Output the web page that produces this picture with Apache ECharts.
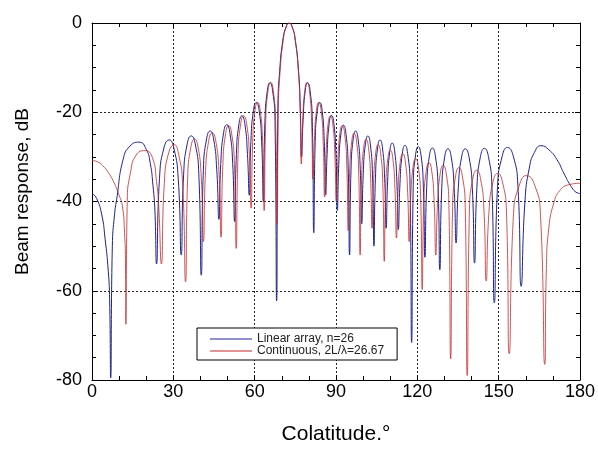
<!DOCTYPE html>
<html><head><meta charset="utf-8">
<script src="https://cdn.jsdelivr.net/npm/echarts@6/dist/echarts.min.js"></script>
<style>html,body{margin:0;padding:0;background:#fff}#c{width:598px;height:450px}</style>
</head><body><div id="c"></div>
<script>
const seriesNames = ['Linear array, n=26', 'Continuous, 2L/λ=26.67'];
const xTickLabels = [0, 30, 60, 90, 120, 150, 180];
const yTickLabels = [-80, -60, -40, -20, 0];

// Linear array (blue): colatitude (deg) and response (dB)
const arrDeg = [
0,1.7,3.6,4.8,6.0,6.5,6.9,
7.5,8.3,9.1,11.5,14,17.4,20,21.5,22.5,23.2,23.8,
24.89,26.53,28.5,30.17,31.81,32.9,
33.79,35.12,36.6,38.08,39.41,40.3,
41.08,42.25,43.55,44.85,46.02,46.8,
47.5,48.54,49.7,50.86,51.9,52.6,
53.25,54.22,55.3,56.38,57.35,58,
58.62,59.56,60.6,61.64,62.58,63.2,
63.79,64.67,65.65,66.63,67.51,68.1,
68.56,69.2,70.4,71.55,72.7,73.85,75,76.2,76.84,77.3,
77.84,78.65,79.55,80.45,81.26,81.8,
82.33,83.12,84,84.88,85.67,86.2,
86.72,87.49,88.35,89.21,89.98,90.5,
91.04,91.85,92.75,93.65,94.46,95,
95.54,96.35,97.25,98.15,98.96,99.5,
100.04,100.85,101.75,102.65,103.46,104,
104.54,105.35,106.25,107.15,107.96,108.5,
109.04,109.85,110.75,111.65,112.46,113,
113.59,114.47,115.45,116.43,117.31,117.9,
118.49,119.37,120.35,121.33,122.21,122.8,
123.46,124.45,125.55,126.65,127.64,128.3,
129.02,130.1,131.3,132.5,133.58,134.3,
135.12,136.34,137.7,139.06,140.28,141.1,
141.98,143.29,144.75,146.21,147.52,148.4,
149.59,151.37,153.2,155.33,157.11,158.3,
159.7,161.3,163.2,165.6,168.5,171.5,174,176.5,178.5,180];
const arrDb = [
-38.2,-39.3,-43,-48.2,-55.6,-62,-79.5,
-50,-43,-39.5,-30.5,-27.6,-26.7,-28.3,-31.5,-36.5,-42,-54,
-34.9,-28,-26.2,-28,-34.9,-52,
-34,-27.1,-25.3,-27.1,-34,-56.5,
-32.9,-26,-24.2,-26,-32.9,-44,
-31.5,-24.6,-22.8,-24.6,-31.5,-44.5,
-29.5,-22.6,-20.8,-22.6,-29.5,-38.6,
-26.5,-19.6,-17.8,-19.6,-26.5,-40,
-22.1,-15.2,-13.4,-15.2,-22.1,-62.3,
-19.2,-10.9,-3.9,-0.9,0,-0.9,-3.9,-10.9,-19.2,-30,
-22.1,-15.2,-13.4,-15.2,-22.1,-47,
-26.5,-19.6,-17.8,-19.6,-26.5,-38.5,
-29.4,-22.5,-20.7,-22.5,-29.4,-42,
-31.6,-24.7,-22.9,-24.7,-31.6,-52,
-32.9,-26,-24.2,-26,-32.9,-45,
-34,-27.1,-25.3,-27.1,-34,-50,
-34.9,-28,-26.2,-28,-34.9,-46,
-35.6,-28.7,-26.9,-28.7,-35.6,-46.3,
-36.1,-29.2,-27.4,-29.2,-36.1,-71.6,
-36.4,-29.5,-27.7,-29.5,-36.4,-52.5,
-36.7,-29.8,-28,-29.8,-36.7,-55.3,
-36.9,-30,-28.2,-30,-36.9,-49.3,
-36.9,-30,-28.2,-30,-36.9,-53.8,
-36.8,-29.9,-28.1,-29.9,-36.8,-62.7,
-36.6,-29.7,-27.9,-29.7,-36.6,-59,
-40,-32.5,-29,-27.5,-28.4,-30.6,-33.6,-36.4,-37.9,-38.2];

// Continuous aperture (red)
const contDeg = [
0,2,4,6,8,9.8,11.2,12,12.35,12.5,
13.0,14.2,16.3,19.5,22.3,23.8,24.6,25.6,
26.67,28.27,30.4,31.83,33.43,34.5,
35.29,36.48,37.8,39.12,40.31,41.1,
41.88,43.05,44.35,45.65,46.82,47.6,
48.27,49.28,50.4,51.52,52.53,53.2,
53.86,54.85,55.95,57.05,58.04,58.7,
59.28,60.14,61.1,62.06,62.92,63.5,
64.08,64.94,65.9,66.86,67.72,68.3,
68.75,69.37,70.53,71.64,72.75,73.86,74.98,76.13,76.76,77.2,
77.72,78.49,79.35,80.21,80.98,81.5,
82.02,82.79,83.65,84.51,85.28,85.8,
86.32,87.09,87.95,88.81,89.58,90.1,
90.63,91.42,92.3,93.18,93.97,94.5,
95.03,95.82,96.7,97.58,98.37,98.9,
99.43,100.22,101.1,101.98,102.77,103.3,
103.84,104.65,105.55,106.45,107.26,107.8,
108.34,109.15,110.05,110.95,111.76,112.3,
112.86,113.71,114.65,115.59,116.44,117,
117.58,118.44,119.4,120.36,121.22,121.8,
122.4,123.3,124.3,125.3,126.2,126.8,
127.46,128.45,129.55,130.65,131.64,132.3,
133.03,134.13,135.35,136.57,137.67,138.4,
139.24,140.5,141.9,143.3,144.56,145.4,
146.42,147.95,149.65,151.35,152.88,153.9,
155.47,157.83,160.2,163.07,165.43,167,
167.6,168.5,170.5,172.5,175.5,180];
const contDb = [
-30.8,-31.1,-32,-33.5,-35.6,-38.3,-41,-47,-54,-67.5,
-40,-33.5,-29.6,-28.6,-30.2,-35.5,-41,-54,
-36,-29.1,-27.3,-29.1,-36,-58,
-34.7,-27.8,-26,-27.8,-34.7,-49,
-33.3,-26.4,-24.6,-26.4,-33.3,-48,
-31.7,-24.8,-23,-24.8,-31.7,-50.5,
-29.5,-22.6,-20.8,-22.6,-29.5,-41.5,
-26.5,-19.6,-17.8,-19.6,-26.5,-42,
-22,-15.1,-13.3,-15.1,-22,-45,
-19.2,-10.9,-3.9,-0.9,0,-0.9,-3.9,-10.9,-19.2,-31.6,
-22,-15.1,-13.3,-15.1,-22,-35,
-26.5,-19.6,-17.8,-19.6,-26.5,-39,
-29.5,-22.6,-20.8,-22.6,-29.5,-40,
-31.7,-24.8,-23,-24.8,-31.7,-46.5,
-33.4,-26.5,-24.7,-26.5,-33.4,-52,
-34.8,-27.9,-26.1,-27.9,-34.8,-46,
-36,-29.1,-27.3,-29.1,-36,-53.4,
-37.2,-30.3,-28.5,-30.3,-37.2,-48.2,
-38,-31.1,-29.3,-31.1,-38,-49,
-39.1,-32.2,-30.4,-32.2,-39.1,-59.7,
-40,-33.1,-31.3,-33.1,-40,-52,
-40.6,-33.7,-31.9,-33.7,-40.6,-75.3,
-41.1,-34.2,-32.4,-34.2,-41.1,-79,
-41.7,-34.8,-33,-34.8,-41.7,-57.8,
-42.4,-35.5,-33.7,-35.5,-42.4,-74.1,
-42.9,-36,-34.2,-36,-42.9,-76.5,
-55,-46,-40,-37.6,-36.3,-35.9];

const font = '"Liberation Sans", Arial, sans-serif';
const pairs = (xs, ys) => xs.map((x, i) => [x, ys[i]]);
const xMin = xTickLabels[0], xMax = xTickLabels[xTickLabels.length - 1];
const yMin = yTickLabels[0], yMax = yTickLabels[yTickLabels.length - 1];

function xAx(bottom) {
  return {
    type: 'value', position: bottom ? 'bottom' : 'top', min: xMin, max: xMax, interval: 30,
    axisLine: {show: true, onZero: false, lineStyle: {color: '#000', width: 1}},
    axisTick: {show: true, inside: true, length: 5, lineStyle: {color: '#000'}},
    minorTick: {show: true, splitNumber: 3, length: 4, lineStyle: {color: '#000'}},
    splitLine: {show: bottom, lineStyle: {color: '#222', type: [2, 2], width: 1}},
    axisLabel: {show: bottom, fontSize: 18, color: '#000', fontFamily: font, margin: 3},
    name: bottom ? 'Colatitude.°' : '', nameLocation: 'middle', nameGap: 44,
    nameTextStyle: {fontSize: 21, color: '#000', fontFamily: font}
  };
}
function yAx(left) {
  return {
    type: 'value', position: left ? 'left' : 'right', min: yMin, max: yMax, interval: 20,
    axisLine: {show: true, onZero: false, lineStyle: {color: '#000', width: 1}},
    axisTick: {show: true, inside: true, length: 5, lineStyle: {color: '#000'}},
    minorTick: {show: true, splitNumber: 4, length: 4, lineStyle: {color: '#000'}},
    splitLine: {show: left, lineStyle: {color: '#222', type: [2, 2], width: 1}},
    axisLabel: {show: left, fontSize: 18, color: '#000', fontFamily: font, margin: 10},
    name: left ? 'Beam response, dB' : '', nameLocation: 'middle', nameGap: 60,
    nameTextStyle: {fontSize: 19, color: '#000', fontFamily: font, padding: [0, 0, 0, 20]}
  };
}

const chart = echarts.init(document.getElementById('c'), null, {renderer: 'canvas'});
chart.setOption({
  animation: false,
  backgroundColor: '#fff',
  grid: {left: 92, right: 16, top: 23, bottom: 67, show: false},
  legend: {
    orient: 'vertical', left: 197, top: 328,
    padding: [5, 13, 3, 13], itemGap: 0, itemWidth: 42, itemHeight: 1, icon: 'rect',
    borderColor: '#000', borderWidth: 1, backgroundColor: '#fff', borderRadius: 0,
    textStyle: {fontSize: 12, lineHeight: 10.5, color: '#222', fontFamily: font},
    data: seriesNames
  },
  xAxis: [xAx(true), xAx(false)],
  yAxis: [yAx(true), yAx(false)],
  series: [
    {name: seriesNames[0], type: 'line', xAxisIndex: 0, yAxisIndex: 0, data: pairs(arrDeg, arrDb),
     symbol: 'none', smooth: 0.55, color: '#1f2290', lineStyle: {color: '#1f2290', width: 1}, z: 2},
    {name: seriesNames[1], type: 'line', xAxisIndex: 0, yAxisIndex: 0, data: pairs(contDeg, contDb),
     symbol: 'none', smooth: 0.55, color: '#c42b2b', lineStyle: {color: '#c42b2b', width: 1, opacity: 0.8}, z: 3}
  ]
});
</script></body></html>
